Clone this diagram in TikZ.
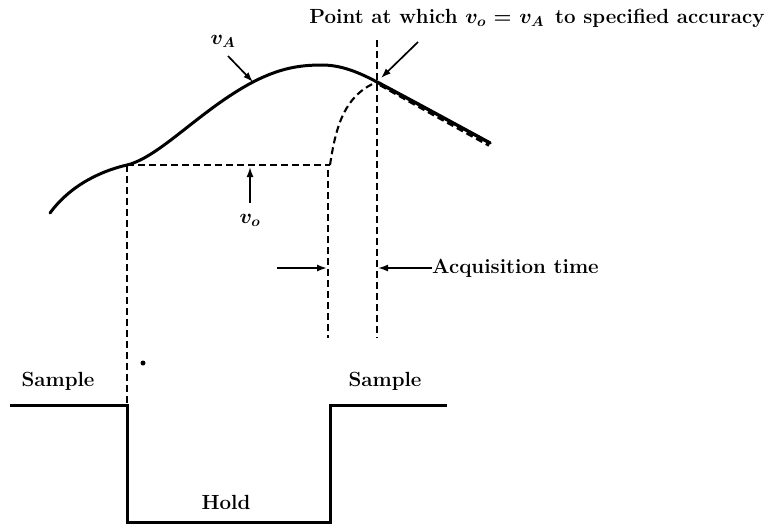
\documentclass[tikz,border=0pt]{standalone}
\usetikzlibrary{arrows.meta}
\begin{document}
\begin{tikzpicture}[x=1pt,y=-1pt,
  lbl/.style={font=\fontsize{20.5}{24}\selectfont\bfseries\boldmath, inner sep=0pt},
  curve/.style={line width=3pt, line cap=round},
  dsh/.style={line width=2.1pt, dash pattern=on 7pt off 4pt},
  arr/.style={line width=1.7pt, -{Latex[length=10pt,width=7pt]}},
  wave/.style={line width=3pt, line join=miter}]
\useasboundingbox (0,0) rectangle (770,527);
% coordinates
\coordinate (s) at (127,165);
\coordinate (k) at (330,165);
\coordinate (x) at (377,82);
\coordinate (e) at (490,143);
% analog signal vA
\draw[curve] (50,213) .. controls (72,183) and (105,170) .. (s)
  .. controls (160,157) and (200,110) .. (253,82)
  .. controls (280,68) and (300,65) .. (322,65)
  .. controls (342,65) and (360,73) .. (x);
\draw[dsh, line width=2.6pt] (380,85) .. controls (420,107.5) .. (489,145.5);
\draw[curve, line width=3.4pt] (x) .. controls (420,105) .. (e);
% held output vo (dashed)
\draw[dsh] (s) -- (k);
\draw[dsh] (k) .. controls (336,125) and (345,95) .. (x);
% vertical dashed guides
\coordinate (s1) at (127,403);
\coordinate (k1) at (328,338);
\coordinate (k0) at (328,170);
\coordinate (x0) at (377,40);
\coordinate (x1) at (377,338);
\draw[dsh] (s) -- (s1);
\draw[dsh] (k0) -- (k1);
\draw[dsh] (x0) -- (x1);
% labels and arrows
\node[lbl] (top) at (537,18) {Point at which $v_o$ = $v_A$\, to specified accuracy};
\coordinate (ta) at (418,42);
\coordinate (tb) at (381,78);
\draw[arr] (ta) -- (tb);
\node[lbl] (va) at (223,41) {$v_A$};
\coordinate (va0) at (228,56);
\coordinate (va1) at (253,82);
\draw[arr] (va0) -- (va1);
\node[lbl] (vo) at (250,220) {$v_o$};
\coordinate (vo0) at (250,203);
\coordinate (vo1) at (250,167);
\draw[arr] (vo0) -- (vo1);
\node[lbl, anchor=west] (acq) at (432,268) {Acquisition time};
\coordinate (al) at (277,268);
\coordinate (alt) at (327,268);
\coordinate (art) at (378,268);
\draw[arr] (al) -- (alt);
\draw[arr] (acq.west) -- (art);
% sample/hold waveform
\coordinate (w0) at (10,405);
\coordinate (w1) at (127,405);
\coordinate (w2) at (127,522);
\coordinate (w3) at (330,522);
\coordinate (w4) at (330,405);
\coordinate (w5) at (447,405);
\draw[wave] (w0) -- (w1) -- (w2) -- (w3) -- (w4) -- (w5);
\node[lbl] (sa1) at (58,381) {Sample};
\node[lbl] (sa2) at (385,381) {Sample};
\node[lbl] (hold) at (226,502) {Hold};
\fill (143,363) circle (2.5pt);
\end{tikzpicture}
\end{document}
